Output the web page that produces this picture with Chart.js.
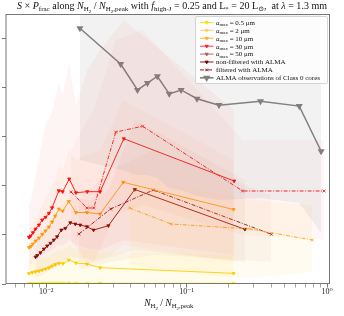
<!DOCTYPE html>
<html>
<head>
<meta charset="utf-8">
<script src="https://cdn.jsdelivr.net/npm/chart.js@4.4.1/dist/chart.umd.min.js"></script>
<style>
  html, body { margin: 0; padding: 0; background: #fff; }
  #c { display: block; }
</style>
</head>
<body>
<canvas id="c" width="344" height="316"></canvas>
<script>
// ---- data ----
const xMajorTicks = [0.01, 0.1, 1];
const xMajorLabels = ['10⁻²', '10⁻¹', '10⁰'];
const xMinorTicks = [0.006, 0.007, 0.008, 0.009, 0.02, 0.03, 0.04, 0.05, 0.06, 0.07, 0.08, 0.09,
                     0.2, 0.3, 0.4, 0.5, 0.6, 0.7, 0.8, 0.9];
const yTicks = [0, 1, 2, 3, 4, 5];

// a_max = 0.5 um and 2 um
const xSmall = [0.00755, 0.00796, 0.0084, 0.00888, 0.00937, 0.00989, 0.01045, 0.01102, 0.0116, 0.0123, 0.0132, 0.0145, 0.0163, 0.0195, 0.0242, 0.216];
const y05 = [0.010, 0.011, 0.012, 0.013, 0.014, 0.015, 0.016, 0.017, 0.018, 0.019, 0.019, 0.020, 0.019, 0.018, 0.017, 0.015];
const y2 = [0.214, 0.235, 0.251, 0.265, 0.286, 0.306, 0.333, 0.367, 0.398, 0.422, 0.418, 0.49, 0.429, 0.408, 0.333, 0.218];
const y2Up = [0.449, 0.469, 0.49, 0.51, 0.531, 0.551, 0.571, 0.612, 0.653, 0.694, 0.694, 0.776, 0.694, 0.694, 0.653, 0.592];
const y2Low = [0, 0, 0, 0, 0, 0, 0, 0, 0, 0, 0, 0, 0, 0, 0, 0];

// a_max = 10 um
const x10 = [0.00755, 0.00777, 0.00803, 0.0084, 0.00888, 0.00937, 0.00989, 0.01045, 0.01102, 0.0116, 0.0123, 0.0131, 0.0145, 0.0163, 0.0195, 0.0242, 0.0354, 0.216];
const y10 = [0.745, 0.765, 0.816, 0.878, 0.939, 1.01, 1.082, 1.163, 1.265, 1.388, 1.531, 1.49, 1.684, 1.459, 1.459, 1.429, 2.076, 1.52];
const y10Up = [1.143, 1.184, 1.265, 1.347, 1.469, 1.612, 1.755, 1.878, 2.02, 2.163, 2.429, 2.327, 2.735, 2.531, 2.633, 2.735, 3.755, 2.531];
const y10Low = [0.184, 0.184, 0.204, 0.224, 0.245, 0.265, 0.286, 0.327, 0.367, 0.408, 0.449, 0.449, 0.531, 0.449, 0.449, 0.449, 0.796, 0.449];
const x10f = [0.0393, 0.0776, 0.2858, 0.783];
const y10f = [1.551, 1.224, 1.122, 0.898];
const y10fUp = [2.429, 2.02, 1.714, 1.612];
const y10fLow = [0.388, 0.245, 0.122, 0.245];

// a_max = 30 um
const x30 = [0.00755, 0.00774, 0.00805, 0.0084, 0.00888, 0.00937, 0.00989, 0.01045, 0.01102, 0.0123, 0.0131, 0.0146, 0.0163, 0.0196, 0.0242, 0.0357, 0.218];
const y30 = [0.953, 0.98, 1.047, 1.122, 1.204, 1.306, 1.361, 1.443, 1.557, 1.904, 1.884, 2.143, 1.863, 1.884, 1.884, 2.965, 2.102];
const y30Up = [1.612, 1.714, 1.918, 2.224, 2.531, 2.939, 3.245, 3.388, 3.51, 4.102, 3.857, 4.51, 3.653, 4.367, 4.776, 5.388, 3.551];
const y30Low = [0.388, 0.388, 0.449, 0.49, 0.531, 0.571, 0.612, 0.653, 0.694, 0.796, 0.776, 0.898, 0.796, 0.735, 0.694, 0.898, 0.592];
const x30f = [0.01503, 0.0195, 0.0218, 0.0313, 0.0485, 0.2506, 0.953];
const y30f = [1.878, 1.551, 1.551, 3.10, 3.22, 1.898, 1.898];
const y30fUp = [2.735, 3.347, 3.551, 4.98, 5.184, 2.939, 2.939];
const y30fLow = [0.898, 0.449, 0.449, 1.408, 1.612, 1.0, 0.898];

// a_max = 50 um (non-filtered / filtered with ALMA)
const x50 = [0.0084, 0.00864, 0.00911, 0.00963, 0.01016, 0.01073, 0.01133, 0.01196, 0.01282, 0.01369, 0.01485, 0.01611, 0.01747, 0.01949, 0.02174, 0.02773, 0.04277, 0.2603];
const y50 = [0.551, 0.582, 0.639, 0.714, 0.776, 0.831, 0.898, 0.965, 1.102, 1.137, 1.251, 1.224, 1.204, 1.169, 1.102, 1.19, 1.929, 1.116];
const y50Up = [0.939, 0.98, 1.061, 1.143, 1.224, 1.306, 1.388, 1.469, 1.612, 1.673, 1.816, 1.755, 1.755, 1.714, 1.714, 1.918, 3.347, 2.122];
const y50Low = [0.122, 0.143, 0.163, 0.204, 0.245, 0.286, 0.327, 0.367, 0.449, 0.49, 0.571, 0.531, 0.531, 0.531, 0.49, 0.531, 0.694, 0.449];
const x50f = [0.0171, 0.0288, 0.0579, 0.402];
const y50f = [1.02, 1.531, 1.918, 1.014];
const y50fUp = [1.714, 2.327, 2.735, 1.816];
const y50fLow = [0.286, 0.449, 0.592, 0.449];

// ALMA observations of Class 0 cores
const xObs = [0.01738, 0.0339, 0.0447, 0.0526, 0.0619, 0.0752, 0.0914, 0.1186, 0.170, 0.336, 0.634, 0.908];
const yObs = [5.22, 4.49, 3.96, 4.10, 4.24, 3.88, 3.96, 3.78, 3.65, 3.73, 3.63, 2.71];
const yObsUp = [6, 6, 6, 6, 6, 6, 6, 6, 6, 6, 6, 6];
const yObsLow = [2.531, 2.327, 2.224, 2.224, 2.163, 1.959, 1.918, 1.796, 1.714, 1.755, 1.653, 1.041];

// ---- helpers ----
const FONT = '"Liberation Serif", "DejaVu Serif", serif';
const pts = (xs, ys) => xs.map((x, i) => ({ x, y: ys[i] }));

function band(xs, up, low, color) {
  return [
    { data: pts(xs, up), borderWidth: 0, pointRadius: 0, fill: false, tension: 0 },
    { data: pts(xs, low), borderWidth: 0, pointRadius: 0, fill: '-1', backgroundColor: color, tension: 0 }
  ];
}
function line(xs, ys, color, opts = {}) {
  return Object.assign({
    data: pts(xs, ys), borderColor: color, backgroundColor: color, pointBackgroundColor: color,
    pointBorderColor: color, borderWidth: 0.9, pointRadius: 1.8, pointStyle: 'triangle',
    pointRotation: 180, fill: false, tension: 0
  }, opts);
}
const dashDot = [4, 1.5, 1, 1.5];

// rich text: segments {t, it, sub(1|2)}
function richFont(seg, size) {
  const s = seg.sub === 2 ? size * 0.5 : seg.sub ? size * 0.7 : size;
  return (seg.it ? 'italic ' : '') + s.toFixed(2) + 'px ' + FONT;
}
function richWidth(ctx, segs, size) {
  let w = 0;
  segs.forEach(sg => { ctx.font = richFont(sg, size); w += ctx.measureText(sg.t).width; });
  return w;
}
function drawRich(ctx, segs, x, y, size, align) {
  let cx = align === 'center' ? x - richWidth(ctx, segs, size) / 2 : x;
  ctx.textBaseline = 'alphabetic';
  ctx.textAlign = 'left';
  segs.forEach(sg => {
    ctx.font = richFont(sg, size);
    const dy = sg.sub === 2 ? size * 0.38 : sg.sub ? size * 0.22 : 0;
    ctx.fillText(sg.t, cx, y + dy);
    cx += ctx.measureText(sg.t).width;
  });
}

const titleSegs = [
  { t: 'S', it: 1 }, { t: ' × ' }, { t: 'P', it: 1 }, { t: 'frac', sub: 1 }, { t: ' along ' },
  { t: 'N', it: 1 }, { t: 'H', sub: 1 }, { t: '2', sub: 2 }, { t: ' / ' },
  { t: 'N', it: 1 }, { t: 'H', sub: 1 }, { t: '2', sub: 2 }, { t: ',peak', sub: 1 },
  { t: ' with ' }, { t: 'f', it: 1 }, { t: 'high-J', sub: 1 }, { t: ' = 0.25 and L' }, { t: '*', sub: 1 },
  { t: ' = 20 L' }, { t: '⊙', sub: 1 }, { t: ',  at ' }, { t: 'λ', it: 1 }, { t: ' = 1.3 mm' }
];
const xLabelSegs = [
  { t: 'N', it: 1 }, { t: 'H', sub: 1 }, { t: '2', sub: 2 }, { t: ' / ' },
  { t: 'N', it: 1 }, { t: 'H', sub: 1 }, { t: '2', sub: 2 }, { t: ',peak', sub: 1 }
];
const amax = v => [{ t: 'a', it: 1 }, { t: 'max', sub: 1 }, { t: ' = ' + v + ' μm' }];
const legendItems = [
  { segs: amax('0.5'), color: '#f2e600', dash: [], marker: 'triangle', lw: 0.9 },
  { segs: amax('2'), color: '#ffcf60', dash: [], marker: 'triangle', lw: 0.9 },
  { segs: amax('10'), color: '#ffae30', dash: [], marker: 'triangle', lw: 0.9 },
  { segs: amax('30'), color: '#ff2a2a', dash: [], marker: 'triangle', lw: 0.9 },
  { segs: amax('50'), color: '#b85a5a', dash: [], marker: 'triangle', lw: 0.9 },
  { segs: [{ t: 'non-filtered with ALMA' }], color: '#800000', dash: [], marker: 'triangle', lw: 0.9 },
  { segs: [{ t: 'filtered with ALMA' }], color: '#800000', dash: dashDot, marker: 'crossRot', lw: 0.9 },
  { segs: [{ t: 'ALMA observations of Class 0 cores' }], color: '#808080', dash: [], marker: 'triangle', lw: 1.6, big: 1 }
];

const decor = {
  id: 'decor',
  afterDraw(chart) {
    const ctx = chart.ctx, a = chart.chartArea;
    ctx.save();
    // frame
    ctx.strokeStyle = '#777';
    ctx.lineWidth = 1;
    ctx.strokeRect(a.left + 0.5, a.top + 0.5, a.right - a.left - 1, a.bottom - a.top - 1);
    // title
    ctx.fillStyle = '#111';
    let ts = 8.6;
    const tw = richWidth(ctx, titleSegs, ts);
    ts = ts * 310 / tw;
    drawRich(ctx, titleSegs, 172, 9.2, ts, 'center');
    // x label
    drawRich(ctx, xLabelSegs, (a.left + a.right) / 2 + 1, 306, 9.6, 'center');
    // legend
    const lx = 195, ly = 16, lw = 132, lh = 67;
    ctx.fillStyle = 'rgba(255,255,255,0.8)';
    ctx.strokeStyle = '#cccccc';
    ctx.lineWidth = 0.8;
    ctx.beginPath();
    ctx.roundRect(lx + 0.5, ly + 0.5, lw, lh, 1.5);
    ctx.fill();
    ctx.stroke();
    legendItems.forEach((it, i) => {
      const cy = 22.5 + i * 7.9;
      ctx.strokeStyle = it.color;
      ctx.fillStyle = it.color;
      ctx.lineWidth = it.lw;
      ctx.setLineDash(it.dash);
      ctx.beginPath();
      ctx.moveTo(200, cy);
      ctx.lineTo(213.5, cy);
      ctx.stroke();
      ctx.setLineDash([]);
      Chart.helpers.drawPoint(ctx, { pointStyle: it.marker, rotation: 180, radius: it.big ? 2.6 : 1.8, borderWidth: 0.8 }, 206.7, cy);
      if (it.marker === 'triangle') ctx.fill();
      ctx.fillStyle = '#111';
      drawRich(ctx, it.segs, 216, cy + 2.3, 7, 'left');
    });
    ctx.restore();
  }
};

const datasets = [
  ...band(xObs, yObsUp, yObsLow, 'rgba(128,128,128,0.10)'),
  ...band(xSmall, y2Up, y2Low, 'rgba(255,215,0,0.08)'),
  ...band(x10, y10Up, y10Low, 'rgba(255,150,40,0.055)'),
  ...band(x10f, y10fUp, y10fLow, 'rgba(255,210,90,0.09)'),
  ...band(x30, y30Up, y30Low, 'rgba(255,60,60,0.055)'),
  ...band(x30f, y30fUp, y30fLow, 'rgba(255,60,60,0.045)'),
  ...band(x50, y50Up, y50Low, 'rgba(170,40,40,0.045)'),
  ...band(x50f, y50fUp, y50fLow, 'rgba(170,40,40,0.035)'),
  line(xSmall, y05, '#ffee00'),
  line(xSmall, y2, '#ffcc00'),
  line(x10, y10, '#ffa500'),
  line(x10f, y10f, '#ffa500', { borderDash: dashDot, pointStyle: 'crossRot', pointRadius: 2, pointBorderWidth: 0.8 }),
  line(x30, y30, '#ff0000'),
  line(x30f, y30f, '#ff0000', { borderDash: dashDot, pointStyle: 'crossRot', pointRadius: 2, pointBorderWidth: 0.8 }),
  line(x50, y50, '#800000'),
  line(x50f, y50f, '#800000', { borderDash: dashDot, pointStyle: 'crossRot', pointRadius: 2, pointBorderWidth: 0.8 }),
  line(xObs, yObs, '#808080', { borderWidth: 1.5, pointRadius: 2.6 })
];

const isMajor = v => xMajorTicks.some(m => Math.abs(v - m) / m < 1e-6);

new Chart(document.getElementById('c'), {
  type: 'line',
  data: { datasets },
  options: {
    responsive: false,
    animation: false,
    devicePixelRatio: 1,
    layout: { padding: { left: 0, top: 14, right: 14, bottom: 0 } },
    plugins: { legend: { display: false }, tooltip: { enabled: false }, title: { display: false } },
    scales: {
      x: {
        type: 'logarithmic',
        min: 0.005131,
        max: 1.05,
        afterBuildTicks: s => {
          s.ticks = xMajorTicks.concat(xMinorTicks).sort((a, b) => a - b).map(v => ({ value: v, major: isMajor(v) }));
        },
        afterFit: s => { s.height = 32; },
        border: { display: false },
        grid: {
          drawOnChartArea: false, drawTicks: true, tickLength: 3.5,
          tickColor: '#666',
          tickWidth: c => (c.tick && isMajor(c.tick.value)) ? 0.9 : 0.6
        },
        ticks: {
          autoSkip: false, maxRotation: 0, padding: 0, color: '#222',
          font: { family: FONT, size: 8 },
          callback: v => { const i = xMajorTicks.findIndex(m => Math.abs(v - m) / m < 1e-6); return i >= 0 ? xMajorLabels[i] : ''; }
        }
      },
      y: {
        type: 'linear',
        min: 0,
        max: 5.51,
        afterBuildTicks: s => { s.ticks = yTicks.map(v => ({ value: v })); },
        afterFit: s => { s.width = 3; },
        border: { display: false },
        grid: { drawOnChartArea: false, drawTicks: true, tickLength: 3.5, tickColor: '#666', tickWidth: 0.9 },
        ticks: { display: false }
      }
    }
  },
  plugins: [decor]
});
</script>
</body>
</html>
